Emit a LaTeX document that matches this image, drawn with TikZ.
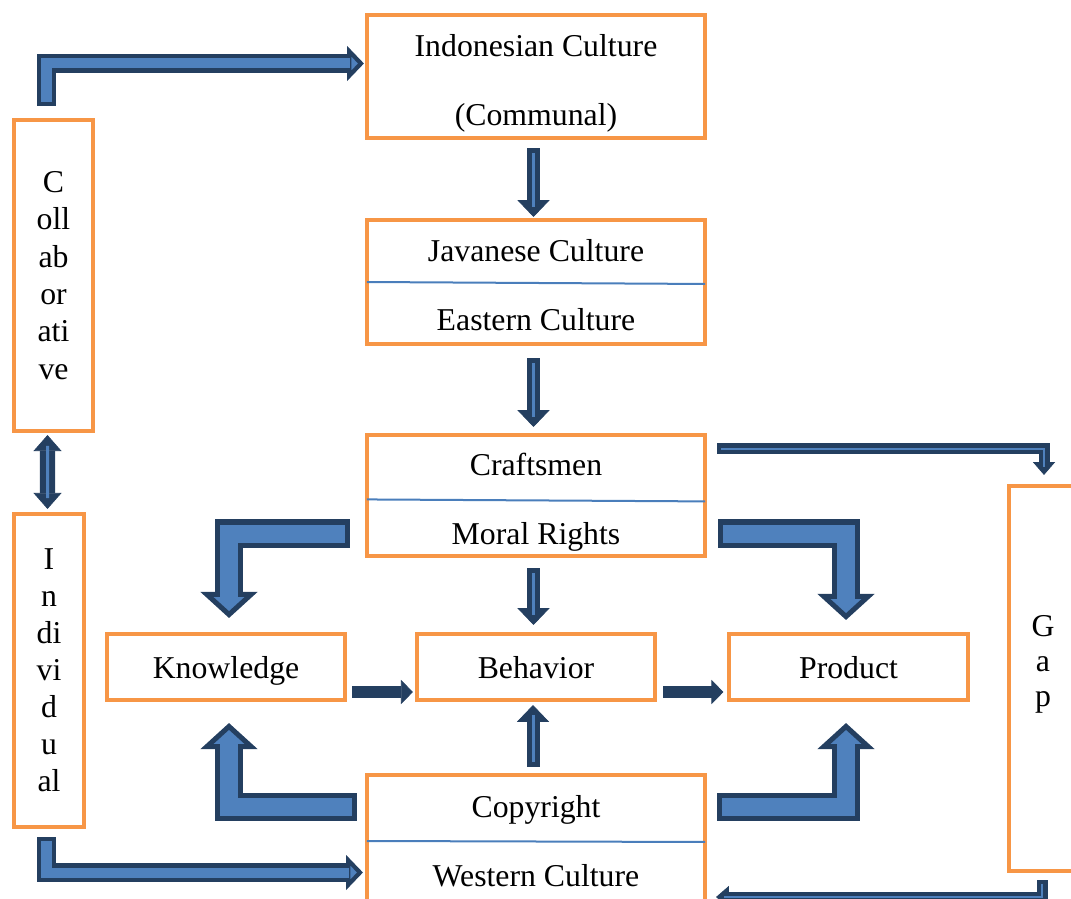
\documentclass[tikz,border=0pt]{standalone}
\usepackage{fontspec}
\setmainfont{Liberation Serif}
\usetikzlibrary{arrows.meta}
\definecolor{boxorange}{HTML}{F79646}
\definecolor{arrowblue}{HTML}{4F81BD}
\definecolor{arrowdark}{HTML}{243F60}
\definecolor{lineblue}{HTML}{4A7EBB}

\tikzset{
  box/.style={draw=boxorange, line width=0.1cm, rectangle, inner sep=0pt, outer sep=0pt,
    font=\fontsize{22.6}{49}\selectfont},
  wordbox/.style={box, minimum width=8.45cm},
  wordtext/.style={align=center, inner sep=0pt, font=\fontsize{22.6}{49}\selectfont},
  smallbox/.style={box, minimum width=5.95cm, minimum height=1.65cm, text depth=0pt},
  letterbox/.style={box, align=center, font=\fontsize{22.6}{26.6}\selectfont},
  divider/.style={draw=lineblue, line width=0.05cm},
  bigarrow/.style={draw=arrowdark, line width=0.7cm,
    -{Triangle[length=0.65cm, width=1.4cm, fill=arrowblue, line width=0.125cm]},
    postaction={draw=arrowblue, line width=0.45cm, arrows=-, shorten >=0.5cm, shorten <=0.125cm}},
  midarrow/.style={draw=arrowdark, line width=0.475cm,
    -{Triangle[length=0.42cm, width=0.85cm, fill=arrowblue, line width=0.11cm]},
    postaction={draw=arrowblue, line width=0.25cm, arrows=-, shorten >=0.35cm, shorten <=0.11cm}},
  thinarrow/.style={draw=arrowdark, line width=0.325cm,
    -{Triangle[length=0.42cm, width=0.8cm, line width=0.5pt]},
    postaction={draw=arrowblue, line width=0.075cm, arrows=-, shorten >=0.25cm, shorten <=0.125cm}},
  dblarrow/.style={draw=arrowdark, line width=0.375cm,
    {Triangle[length=0.4cm, width=0.7cm, line width=0.5pt]}-{Triangle[length=0.4cm, width=0.7cm, line width=0.5pt]},
    postaction={draw=arrowblue, line width=0.075cm, arrows=-, shorten >=0.27cm, shorten <=0.27cm}},
  slimarrow/.style={draw=arrowdark, line width=0.275cm,
    -{Triangle[length=0.32cm, width=0.55cm, line width=0.5pt]},
    postaction={draw=arrowblue, line width=0.05cm, arrows=-, shorten >=0.2cm, shorten <=0.1cm}},
  flatarrow/.style={draw=arrowdark, line width=0.3cm,
    -{Triangle[length=0.3cm, width=0.6cm, line width=0.5pt]}}
}

\begin{document}
\begin{tikzpicture}[x=0.025cm, y=-0.025cm]
\useasboundingbox (0,0) rectangle (1071,899);
\clip (0,0) rectangle (1071,899);

% culture column
\node[wordbox, minimum height=3.075cm] (indo) at (536,76.5) {};
\node[wordbox, minimum height=3.1cm] (java) at (536,282) {};
\node[wordbox, minimum height=3.025cm] (craft) at (536,495.5) {};
\node[wordbox, minimum height=3.3cm] (copy) at (536,841) {};
\node[wordtext] (indotext) at ([yshift=-4.6pt]indo.center) {Indonesian Culture\\(Communal)};
\node[wordtext] (javatext) at ([yshift=-2.5pt]java.center) {Javanese Culture\\Eastern Culture};
\node[wordtext] (crafttext) at ([yshift=-5pt]craft.center) {Craftsmen\\Moral Rights};
\node[wordtext] (copytext) at (copy.center) {Copyright\\Western Culture};
\draw[divider] (java.west) -- ([yshift=-1.4pt]java.east);
\draw[divider] ([yshift=-2.8pt]craft.west) -- ([yshift=-4.2pt]craft.east);
\draw[divider] (copy.west) -- ([yshift=-0.7pt]copy.east);

% middle row
\node[smallbox] (know) at (226,667) {Knowledge};
\node[smallbox] (behav) at (536,667) {Behavior};
\node[smallbox] (prod) at (848.5,667) {Product};

% side boxes
\node[letterbox, minimum width=1.975cm, minimum height=7.775cm] (collab) at (53.5,275.5) {C\\oll\\ab\\or\\ati\\ve};
\node[letterbox, minimum width=1.75cm, minimum height=7.825cm, font=\fontsize{22.6}{26.3}\selectfont] (indiv) at (49,670.5) {I\\n\\di\\vi\\d\\u\\al};
\node[box, minimum width=1.7cm, minimum height=9.625cm] (gap) at (1043,678.5) {};
\node[font=\fontsize{22.6}{24.9}\selectfont, align=center, inner sep=0pt] (gaptext) at (1043,664) {G\\a\\p};

% straight arrows
\draw[thinarrow] ([shift={(-2.5,10)}]indo.south) -- ([shift={(-2.5,-3)}]java.north);
\draw[thinarrow] ([shift={(-2.5,14)}]java.south) -- ([shift={(-2.5,-8)}]craft.north);
\draw[thinarrow] ([shift={(-2.5,12)}]craft.south) -- ([shift={(-2.5,-9)}]behav.north);
\draw[thinarrow] ([shift={(-3,-8)}]copy.north) -- ([shift={(-3,5)}]behav.south);
\draw[dblarrow] ([shift={(-6,4)}]collab.south) -- ([shift={(-1.5,-5)}]indiv.north);
\draw[flatarrow] ([shift={(7,25)}]know.east) -- ([shift={(-4,25)}]behav.west);
\draw[flatarrow] ([shift={(8,25)}]behav.east) -- ([shift={(-6,25)}]prod.west);

% bent arrows
\draw[midarrow] ([shift={(-7,-14)}]collab.north) |- ([shift={(-3,-13)}]indo.west);
\draw[midarrow] ([shift={(-2.5,10)}]indiv.south) |- ([shift={(-4,31.5)}]copy.west);
\draw[bigarrow] ([shift={(-17,38)}]craft.west) -| ([shift={(3,-16)}]know.north);
\draw[bigarrow] ([shift={(13,38)}]craft.east) -| ([shift={(-2.5,-14)}]prod.north);
\draw[bigarrow] ([shift={(-10,-34.5)}]copy.west) -| ([shift={(3,23)}]know.south);
\draw[bigarrow] ([shift={(12,-34.5)}]copy.east) -| ([shift={(-2.5,23)}]prod.south);
\draw[slimarrow] ([shift={(12,-47)}]craft.east) -| ([shift={(1,-11)}]gap.north);
\draw[slimarrow] ([shift={(-1,9)}]gap.south) |- ([shift={(11,56)}]copy.east);
\end{tikzpicture}
\end{document}
